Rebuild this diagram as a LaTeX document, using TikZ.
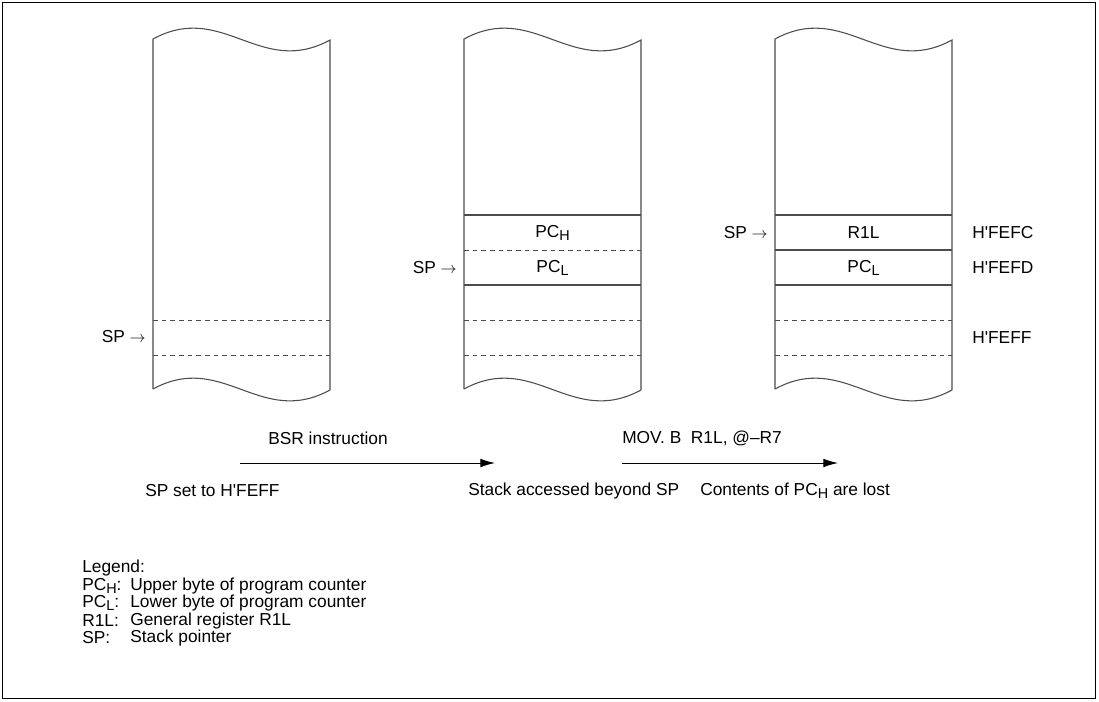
\documentclass[tikz,border=0pt]{standalone}
\usepackage{fontspec}
\setmainfont{Liberation Sans}[Ligatures=TeXOff]
\usetikzlibrary{arrows.meta}
\newcommand{\lsub}[1]{\raisebox{-0.35ex}{\fontsize{10.8pt}{11pt}\selectfont #1}}
\begin{document}
\begin{tikzpicture}[x=0.75pt,y=-0.75pt,
  font=\fontsize{13pt}{15pt}\selectfont,
  txt/.style={inner sep=0pt, anchor=west},
  ctxt/.style={inner sep=0pt},
  colline/.style={draw=black!70, line width=0.8pt},
  dashline/.style={draw=black!70, line width=0.6pt, dash pattern=on 3.5pt off 3pt},
  flow/.style={line width=0.75pt, -{Latex[length=11pt,width=6.5pt]}}]
\useasboundingbox (0,0) rectangle (1099,701);
\draw[line width=1.1pt] (2.5,2.5) rectangle (1095.5,698.5);
% columns
\foreach \x in {153,464,775} {
  \draw[colline] (\x,389) -- (\x,39) .. controls (\x+70,1) and (\x+107,78) .. (\x+177,40) -- (\x+177,390);
  \draw[colline] (\x,389) .. controls (\x+70,351) and (\x+107,428) .. (\x+177,390);
}
% column 1
\draw[dashline] (153,320) -- (330,320);
\draw[dashline] (153,355) -- (330,355);
% column 2
\draw[colline] (464,215) -- (641,215);
\draw[dashline] (464,250) -- (641,250);
\draw[colline] (464,285) -- (641,285);
\draw[dashline] (464,320) -- (641,320);
\draw[dashline] (464,355) -- (641,355);
% column 3
\draw[colline] (775,215) -- (952,215);
\draw[colline] (775,250) -- (952,250);
\draw[colline] (775,285) -- (952,285);
\draw[dashline] (775,320) -- (952,320);
\draw[dashline] (775,355) -- (952,355);
% cell labels
\node[ctxt] (c2h) at (552.5,233) {PC\lsub{H}};
\node[ctxt] (c2l) at (552.5,268) {PC\lsub{L}};
\node[ctxt] (c3r) at (863.5,233) {R1L};
\node[ctxt] (c3l) at (863.5,268) {PC\lsub{L}};
% SP pointers
\node[inner sep=0pt, anchor=east] (sp1) at (146,337) {SP $\rightarrow$};
\node[inner sep=0pt, anchor=east] (sp2) at (457,268) {SP $\rightarrow$};
\node[inner sep=0pt, anchor=east] (sp3) at (768,233) {SP $\rightarrow$};
% addresses
\node[txt] (adc) at (972,233) {H'FEFC};
\node[txt] (add) at (972,268) {H'FEFD};
\node[txt] (adf) at (972,338) {H'FEFF};
% transitions
\coordinate (a1s) at (240,463);
\coordinate (a1e) at (495,463);
\coordinate (a2s) at (622,463);
\coordinate (a2e) at (838,463);
\draw[flow] (a1s) -- (a1e);
\draw[flow] (a2s) -- (a2e);
\node[txt] (t1) at (268,438) {BSR instruction};
\node[txt] (t2) at (622,438) {MOV. B\ \ R1L, @–R7};
\node[txt] (b1) at (145,491) {SP set to H'FEFF};
\node[txt] (b2) at (468,491) {Stack accessed beyond SP};
\node[txt] (b3) at (700,491) {Contents of PC\lsub{H} are lost};
% legend
\node[txt] (lg) at (82,568) {Legend:};
\node[txt] (l1) at (82,586) {PC\lsub{H}:};
\node[txt] (l1d) at (130,586) {Upper byte of program counter};
\node[txt] (l2) at (82,603) {PC\lsub{L}:};
\node[txt] (l2d) at (130,603) {Lower byte of program counter};
\node[txt] (l3) at (82,621) {R1L:};
\node[txt] (l3d) at (130,621) {General register R1L};
\node[txt] (l4) at (82,638) {SP:};
\node[txt] (l4d) at (130,638) {Stack pointer};
\end{tikzpicture}
\end{document}
